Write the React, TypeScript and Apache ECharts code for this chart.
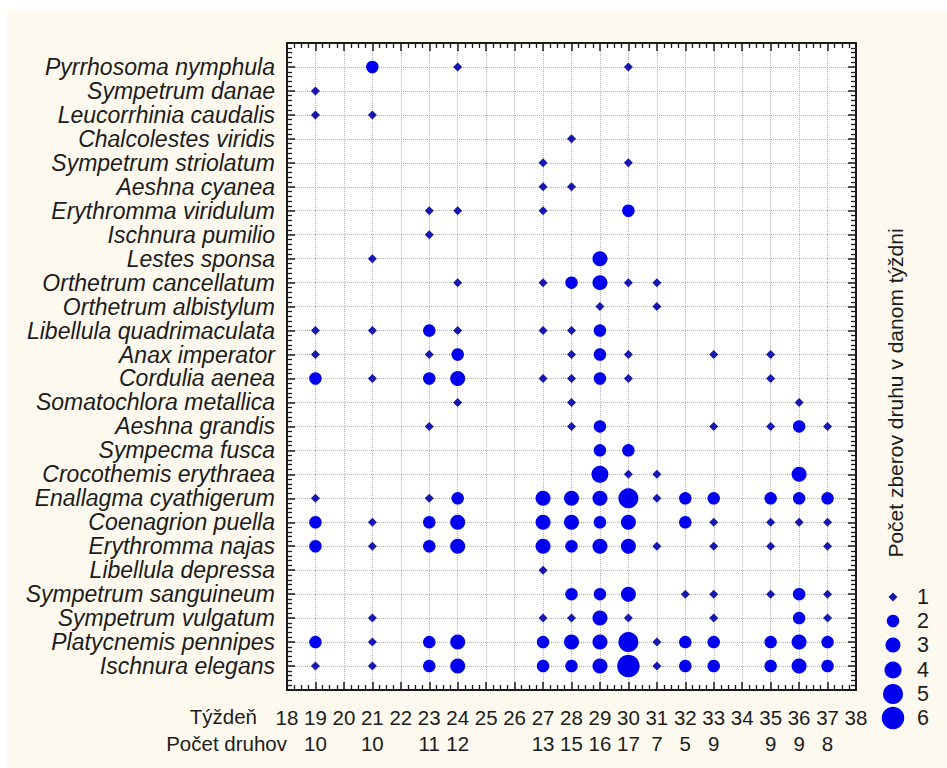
import { useEffect, useRef } from 'react';
import * as echarts from 'echarts';

// ---------- DATA ----------
const species = [
  'Pyrrhosoma nymphula',
  'Sympetrum danae',
  'Leucorrhinia caudalis',
  'Chalcolestes viridis',
  'Sympetrum striolatum',
  'Aeshna cyanea',
  'Erythromma viridulum',
  'Ischnura pumilio',
  'Lestes sponsa',
  'Orthetrum cancellatum',
  'Orthetrum albistylum',
  'Libellula quadrimaculata',
  'Anax imperator',
  'Cordulia aenea',
  'Somatochlora metallica',
  'Aeshna grandis',
  'Sympecma fusca',
  'Crocothemis erythraea',
  'Enallagma cyathigerum',
  'Coenagrion puella',
  'Erythromma najas',
  'Libellula depressa',
  'Sympetrum sanguineum',
  'Sympetrum vulgatum',
  'Platycnemis pennipes',
  'Ischnura elegans',
];

// [week, number of collections] for each species, same order as `species`
const collections: [number, number][][] = [
  [[21, 2], [24, 1], [30, 1]],
  [[19, 1]],
  [[19, 1], [21, 1]],
  [[28, 1]],
  [[27, 1], [30, 1]],
  [[27, 1], [28, 1]],
  [[23, 1], [24, 1], [27, 1], [30, 2]],
  [[23, 1]],
  [[21, 1], [29, 3]],
  [[24, 1], [27, 1], [28, 2], [29, 3], [30, 1], [31, 1]],
  [[29, 1], [31, 1]],
  [[19, 1], [21, 1], [23, 2], [24, 1], [27, 1], [28, 1], [29, 2]],
  [[19, 1], [23, 1], [24, 2], [28, 1], [29, 2], [30, 1], [33, 1], [35, 1]],
  [[19, 2], [21, 1], [23, 2], [24, 3], [27, 1], [28, 1], [29, 2], [30, 1], [35, 1]],
  [[24, 1], [28, 1], [36, 1]],
  [[23, 1], [28, 1], [29, 2], [33, 1], [35, 1], [36, 2], [37, 1]],
  [[29, 2], [30, 2]],
  [[29, 4], [30, 1], [31, 1], [36, 3]],
  [[19, 1], [23, 1], [24, 2], [27, 3], [28, 3], [29, 3], [30, 5], [31, 1], [32, 2], [33, 2], [35, 2], [36, 2], [37, 2]],
  [[19, 2], [21, 1], [23, 2], [24, 3], [27, 3], [28, 3], [29, 2], [30, 3], [32, 2], [33, 1], [35, 1], [36, 1], [37, 1]],
  [[19, 2], [21, 1], [23, 2], [24, 3], [27, 3], [28, 2], [29, 3], [30, 3], [31, 1], [33, 1], [35, 1], [37, 1]],
  [[27, 1]],
  [[28, 2], [29, 2], [30, 3], [32, 1], [33, 1], [35, 1], [36, 2], [37, 1]],
  [[21, 1], [27, 1], [28, 1], [29, 3], [30, 1], [33, 1], [36, 2], [37, 1]],
  [[19, 2], [21, 1], [23, 2], [24, 3], [27, 2], [28, 3], [29, 3], [30, 5], [31, 1], [32, 2], [33, 2], [35, 2], [36, 3], [37, 2]],
  [[19, 1], [21, 1], [23, 2], [24, 3], [27, 2], [28, 2], [29, 3], [30, 6], [31, 1], [32, 2], [33, 2], [35, 2], [36, 3], [37, 2]],
];

const weekMin = 18;
const weekMax = 38;
const countWeeks = [19, 21, 23, 24, 27, 28, 29, 30, 31, 32, 33, 35, 36, 37];
const speciesCounts = [10, 10, 11, 12, 13, 15, 16, 17, 7, 5, 9, 9, 9, 8];
const levels = [1, 2, 3, 4, 5, 6];

const xTitle = 'Týždeň';
const countTitle = 'Počet druhov';
const legendTitle = 'Počet zberov druhu v danom týždni';

// ---------- STYLE ----------
const FONT = '"Liberation Sans", Arial, sans-serif';
const TXT = '#1c1c1c';
const BLUE = '#0000ee';
const DIAMOND = '#1616b0';
const INK = '#1a1a1a';
const levelSizes = [9, 12.5, 15, 17, 20, 22.5];
const legendCY = [597, 621, 645, 670, 694, 718];

const axisLineStyle = () => ({ color: INK, width: 2 });
const majorTick = () => ({ show: true, inside: true, length: 8, lineStyle: { color: INK, width: 1.5 } });
const minorTick = (n: number) => ({ show: true, splitNumber: n, length: 5, lineStyle: { color: INK, width: 1.3 } });

export default function App() {
  const ref = useRef<HTMLDivElement>(null);

  useEffect(() => {
    if (!ref.current) return;
    const chart = echarts.init(ref.current, undefined, { renderer: 'svg' });

    const series = levels.map((lv, i) => {
      const data: [number, number][] = [];
      collections.forEach((list, row) => {
        list.forEach(([w, v]) => {
          if (v === lv) data.push([w, row + 1]);
        });
      });
      return {
        name: String(lv),
        type: 'scatter',
        xAxisIndex: 0,
        yAxisIndex: 0,
        symbol: lv === 1 ? 'diamond' : 'circle',
        symbolSize: levelSizes[i],
        itemStyle: { color: lv === 1 ? DIAMOND : BLUE, opacity: 1 },
        data,
        z: 5,
      };
    });

    const legends = levels.map((lv, i) => {
      const s = levelSizes[i];
      return {
        show: true,
        orient: 'vertical',
        left: 893 - s / 2,
        top: legendCY[i] - 12,
        padding: 0,
        itemWidth: s,
        itemHeight: s,
        selectedMode: false,
        data: [{ name: String(lv), icon: lv === 1 ? 'diamond' : 'circle' }],
        textStyle: {
          fontFamily: FONT,
          fontSize: 21.5,
          lineHeight: 24,
          color: TXT,
          padding: [0, 0, 0, 19 - s / 2],
        },
      };
    });

    const option = {
      animation: false,
      backgroundColor: '#fdf9ee',
      textStyle: { fontFamily: FONT },
      graphic: [
        { type: 'rect', silent: true, shape: { x: 0, y: 0, width: 947, height: 10 }, style: { fill: '#ffffff' } },
        { type: 'rect', silent: true, shape: { x: 0, y: 0, width: 7, height: 768 }, style: { fill: '#ffffff' } },
        {
          type: 'text',
          x: 257,
          y: 716,
          style: { text: xTitle, fontSize: 20.5, fontFamily: FONT, fill: TXT, align: 'right', verticalAlign: 'middle' },
        },
        {
          type: 'text',
          x: 287,
          y: 743,
          style: { text: countTitle, fontSize: 20.5, fontFamily: FONT, fill: TXT, align: 'right', verticalAlign: 'middle' },
        },
        {
          type: 'text',
          x: 895,
          y: 393,
          rotation: Math.PI / 2,
          style: { text: legendTitle, fontSize: 21, fontFamily: FONT, fill: TXT, align: 'center', verticalAlign: 'middle' },
        },
      ],
      grid: {
        left: 287,
        top: 43,
        width: 569,
        height: 647,
        show: true,
        backgroundColor: '#ffffff',
        borderWidth: 0,
      },
      legend: legends,
      xAxis: [
        {
          type: 'value',
          position: 'bottom',
          min: weekMin,
          max: weekMax,
          interval: 1,
          axisLine: { show: true, onZero: false, lineStyle: axisLineStyle() },
          axisTick: majorTick(),
          minorTick: minorTick(4),
          splitLine: { show: true, lineStyle: { type: 'dotted', color: '#b0b0b0', width: 1 } },
          axisLabel: { fontSize: 20.5, margin: 17, color: TXT, fontFamily: FONT },
        },
        {
          type: 'value',
          position: 'bottom',
          offset: 26,
          min: weekMin,
          max: weekMax,
          interval: 1,
          axisLine: { show: false, onZero: false },
          axisTick: { show: false },
          minorTick: { show: false },
          splitLine: { show: false },
          axisLabel: {
            fontSize: 20.5,
            margin: 17,
            color: TXT,
            fontFamily: FONT,
            formatter: (v: number) => {
              const k = countWeeks.indexOf(Math.round(v));
              return k >= 0 ? String(speciesCounts[k]) : '';
            },
          },
        },
        {
          type: 'value',
          position: 'top',
          min: weekMin,
          max: weekMax,
          interval: 1,
          axisLine: { show: true, onZero: false, lineStyle: axisLineStyle() },
          axisTick: majorTick(),
          minorTick: minorTick(4),
          splitLine: { show: false },
          axisLabel: { show: false },
        },
      ],
      yAxis: [
        {
          type: 'value',
          position: 'left',
          inverse: true,
          min: 0,
          max: species.length + 1,
          interval: 1,
          axisLine: { show: true, onZero: false, lineStyle: axisLineStyle() },
          axisTick: majorTick(),
          minorTick: minorTick(5),
          splitLine: { show: true, lineStyle: { type: 'dotted', color: '#b0b0b0', width: 1 } },
          axisLabel: {
            fontSize: 23,
            fontStyle: 'italic',
            margin: 12,
            color: TXT,
            fontFamily: FONT,
            formatter: (v: number) => {
              const i = Math.round(v) - 1;
              return i >= 0 && i < species.length ? species[i] : '';
            },
          },
        },
        {
          type: 'value',
          position: 'right',
          inverse: true,
          min: 0,
          max: species.length + 1,
          interval: 1,
          axisLine: { show: true, onZero: false, lineStyle: axisLineStyle() },
          axisTick: majorTick(),
          minorTick: minorTick(5),
          splitLine: { show: false },
          axisLabel: { show: false },
        },
      ],
      series,
    };

    chart.setOption(option as any);
    return () => chart.dispose();
  }, []);

  return (
    <div
      ref={ref}
      style={{ position: 'fixed', left: 0, top: 0, width: 947, height: 768 }}
    />
  );
}
